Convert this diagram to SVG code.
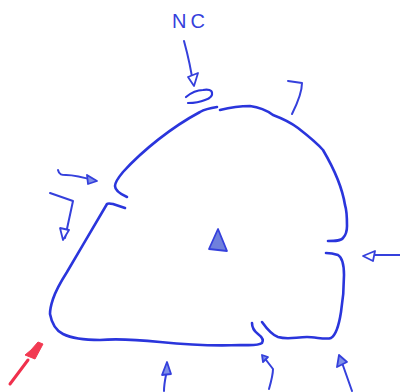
<svg xmlns="http://www.w3.org/2000/svg" width="400" height="392" viewBox="0 0 400 392">
<style>
.w{fill:none;stroke:#2a35dc;stroke-width:2.6;stroke-linecap:round;stroke-linejoin:round}
.a{fill:none;stroke:#3540dc;stroke-width:2;stroke-linecap:round;stroke-linejoin:round}
.h{fill:#7f90e8;stroke:#3540dc;stroke-width:1.8;stroke-linejoin:round}
.o{fill:#fff;stroke:#3540dc;stroke-width:1.8;stroke-linejoin:round}
.t{font-family:"Liberation Sans",sans-serif;font-size:20px;letter-spacing:4px;fill:#3540dc}
</style>
<rect width="400" height="392" fill="#fff"/>
<g id="connectors">
<path class="a" d="M184 41C187 52 191 68 193 84"/>
<path class="o" d="M188 77L198 73L194 86Z"/>
<path class="a" d="M58 170C59 175 62 175 66 175C76 175 86 178 96 181"/>
<path class="h" d="M87 175L97 181L88 184Z"/>
<path class="a" d="M50 193L73 201L65 238"/>
<path class="o" d="M60 228L69 230L63 240Z"/>
<path class="a" d="M288 81L302 83C302 93 297 104 292 114"/>
<path class="a" d="M400 255L374 255"/>
<path class="o" d="M363 256L375 251L373 261Z"/>
<path class="a" d="M164 391C164 385 165 380 166 375"/>
<path class="h" d="M162 375L167 362L171 374Z"/>
<path class="a" d="M269 389C271 382 273 375 273 369L263 356"/>
<path class="h" d="M262 355L268 357L263 362Z"/>
<path class="a" d="M352 391L340 357"/>
<path class="h" d="M339 355L347 362L337 367Z"/>
<path d="M10 384L28 360" fill="none" stroke="#f0304c" stroke-width="3" stroke-linecap="round"/>
<path d="M38 342L43 344L35 359L25 355L31 350Z" fill="#f23a52" stroke="#f23a52" stroke-width="1" stroke-linejoin="round"/>
</g>
<g id="outline">
<path class="w" d="M217 107C210 108 205 109 200 112C172 127 143 150 123 172C118 178 115 182 115 186C115 190 118 193 127 197"/>
<path class="w" d="M125 208L113 204C109 203 108 203 107 204C95 224 80 250 67 272C60 283 55 293 53 299C51 305 50 310 50 314C52 325 57 331 63 334C75 340 90 340 100 340C112 339 130 339 160 342C190 345 215 346 240 345C250 345 258 346 262 343C264 340 262 337 258 334C254 331 252 327 252 323"/>
<path class="w" d="M262 322C267 329 272 335 278 337C288 340 296 337 307 337C316 337 326 340 331 338C336 335 339 325 341 312C343 300 344 285 344 275C344 266 343 258 338 255C335 254 330 253 326 253"/>
<path class="w" d="M328 241C335 241 341 241 343 238C346 235 347 232 347 226C347 216 346 208 345 205C342 186 333 167 323 150C316 142 307 135 298 128C290 122 281 118 273 115C265 109 258 107 250 106C240 106 228 108 220 110"/>
</g>
<g id="label-nc"><text class="t" x="172" y="28">NC</text></g>
<g id="plug"><path class="w" style="stroke-width:2.2" d="M186 97C192 92 198 90 203 90C208 89 212 90 212 93C213 97 208 99 205 100C198 103 192 103 188 103"/></g>
<g id="center"><path d="M218 229L209 249L227 251Z" fill="#6f80dd" stroke="#3540dc" stroke-width="1.8" stroke-linejoin="round"/></g>
</svg>
